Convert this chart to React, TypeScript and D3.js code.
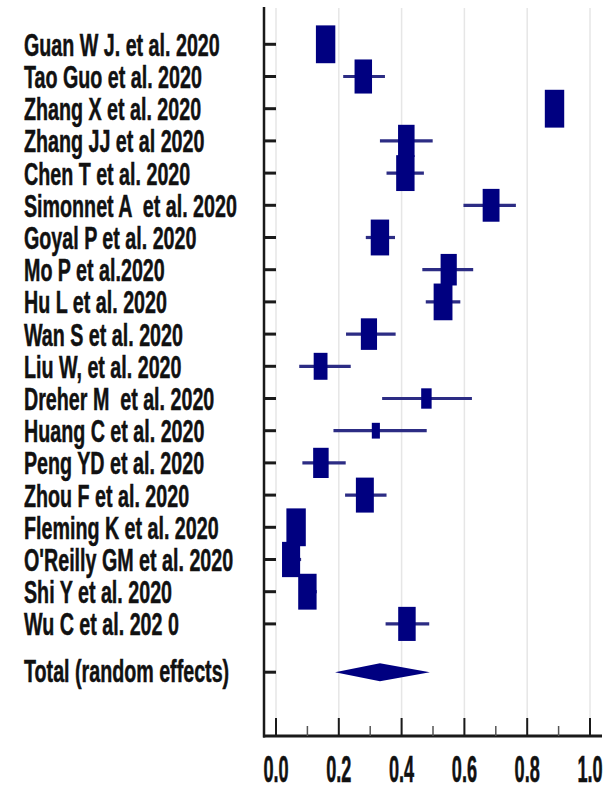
import React from "react";
import * as d3 from "d3";

// Study labels, proportion estimates with 95% CI, and random-effects weights (%)
const studies = [
  "Guan W J. et al. 2020",
  "Tao Guo et al. 2020",
  "Zhang X et al. 2020",
  "Zhang JJ et al 2020",
  "Chen T et al. 2020",
  "Simonnet A  et al. 2020",
  "Goyal P et al. 2020",
  "Mo P et al.2020",
  "Hu L et al. 2020",
  "Wan S et al. 2020",
  "Liu W, et al. 2020",
  "Dreher M  et al. 2020",
  "Huang C et al. 2020",
  "Peng YD et al. 2020",
  "Zhou F et al. 2020",
  "Fleming K et al. 2020",
  "O'Reilly GM et al. 2020",
  "Shi Y et al. 2020",
  "Wu C et al. 202 0",
];
const estimates = [0.158, 0.278, 0.887, 0.415, 0.412, 0.685, 0.331, 0.55, 0.532, 0.296, 0.142, 0.479, 0.318, 0.143, 0.283, 0.064, 0.048, 0.1, 0.417];
const lowerCI = [0.137, 0.214, 0.87, 0.331, 0.352, 0.597, 0.286, 0.466, 0.477, 0.223, 0.074, 0.338, 0.183, 0.084, 0.22, 0.045, 0.03, 0.075, 0.349];
const upperCI = [0.18, 0.347, 0.905, 0.499, 0.471, 0.764, 0.379, 0.628, 0.587, 0.381, 0.238, 0.624, 0.48, 0.222, 0.352, 0.086, 0.08, 0.13, 0.488];
const weights = [6.9, 5.6, 6.9, 5.0, 6.2, 5.2, 6.2, 4.8, 6.5, 4.8, 3.5, 2.0, 1.2, 4.4, 5.9, 6.9, 6.0, 6.2, 5.6];

const totalLabel = "Total (random effects)";
const totalEstimate = 0.331;
const totalLower = 0.188;
const totalUpper = 0.49;

const xTicks = [0, 0.2, 0.4, 0.6, 0.8, 1.0];
const xMinorTicks = [0.1, 0.3, 0.5, 0.7, 0.9];

const W = 607;
const H = 789;
const NAVY = "#000080";
const WHISKER = "#2c2c84";
const AXIS = "#1a1a1a";
const FONT = "'Liberation Sans', Arial, sans-serif";

export default function App() {
  const x = d3.scaleLinear().domain([0, 1]).range([276, 590]);
  const y = d3.scaleLinear().domain([0, 18]).range([44.3, 623.9]);
  const boxW = d3.scaleSqrt().domain([0, 6.9]).range([0, 19.4]);
  const aspect = 1.95;

  const axisX = 264;
  const axisTop = 7;
  const axisBottom = 736;
  const axisRight = 602;
  const totalY = y(19.5);

  const rowYs = [...studies.map((_, i) => y(i)), totalY];

  return (
    <svg
      width={W}
      height={H}
      style={{ position: "absolute", left: 0, top: 0, background: "#fff" }}
      xmlns="http://www.w3.org/2000/svg"
    >
      <rect width={W} height={H} fill="#fff" />

      {/* vertical gridlines */}
      {xTicks.map((t) => (
        <line key={"g" + t} x1={x(t)} x2={x(t)} y1={axisTop + 1} y2={axisBottom} stroke="#e6e6e6" strokeWidth={1.5} />
      ))}

      {/* left axis and row ticks */}
      <line x1={axisX} x2={axisX} y1={axisTop} y2={axisBottom + 1.5} stroke={AXIS} strokeWidth={2.5} />
      {rowYs.map((ry, i) => (
        <line key={"rt" + i} x1={axisX} x2={axisX + 12} y1={ry} y2={ry} stroke={AXIS} strokeWidth={3} />
      ))}

      {/* bottom axis */}
      <line x1={axisX - 1} x2={axisRight} y1={axisBottom} y2={axisBottom} stroke={AXIS} strokeWidth={3} />
      {xTicks.map((t) => (
        <line key={"mt" + t} x1={x(t)} x2={x(t)} y1={axisBottom} y2={axisBottom - 18} stroke={AXIS} strokeWidth={2} />
      ))}
      {xMinorTicks.map((t) => (
        <line key={"nt" + t} x1={x(t)} x2={x(t)} y1={axisBottom} y2={axisBottom - 10} stroke="#555" strokeWidth={1.5} />
      ))}
      {xTicks.map((t) => (
        <text
          key={"tl" + t}
          transform={`translate(${x(t)},${782}) scale(0.49,1)`}
          textAnchor="middle"
          fontFamily={FONT}
          fontWeight="bold"
          fontSize={37}
          fill="#111"
          stroke="#111"
          strokeWidth={0.6}
        >
          {d3.format(".1f")(t)}
        </text>
      ))}

      {/* study labels */}
      {studies.map((s, i) => (
        <text
          key={"lb" + i}
          transform={`translate(24,${y(i) + 11.5}) scale(0.625,1)`}
          fontFamily={FONT}
          fontWeight="bold"
          fontSize={31.5}
          fill="#111"
          stroke="#111"
          strokeWidth={0.5}
          style={{ whiteSpace: "pre" }}
        >
          {s}
        </text>
      ))}
      <text
        transform={`translate(24,${totalY + 10}) scale(0.625,1)`}
        fontFamily={FONT}
        fontWeight="bold"
        fontSize={31.5}
        fill="#111"
        stroke="#111"
        strokeWidth={0.5}
      >
        {totalLabel}
      </text>

      {/* study estimates: CI whiskers and weighted boxes */}
      {studies.map((_, i) => {
        const bw = boxW(weights[i]);
        const bh = bw * aspect;
        const cx = x(estimates[i]);
        const cy = y(i);
        return (
          <g key={"st" + i}>
            <line x1={x(lowerCI[i])} x2={x(upperCI[i])} y1={cy} y2={cy} stroke={WHISKER} strokeWidth={3.2} />
            <rect x={cx - bw / 2} y={cy - bh / 2} width={bw} height={bh} fill={NAVY} />
          </g>
        );
      })}

      {/* pooled estimate */}
      <path
        d={`M${x(totalLower)},${totalY} L${x(totalEstimate)},${totalY - 9} L${x(totalUpper)},${totalY} L${x(totalEstimate)},${totalY + 9} Z`}
        fill={NAVY}
      />
    </svg>
  );
}
